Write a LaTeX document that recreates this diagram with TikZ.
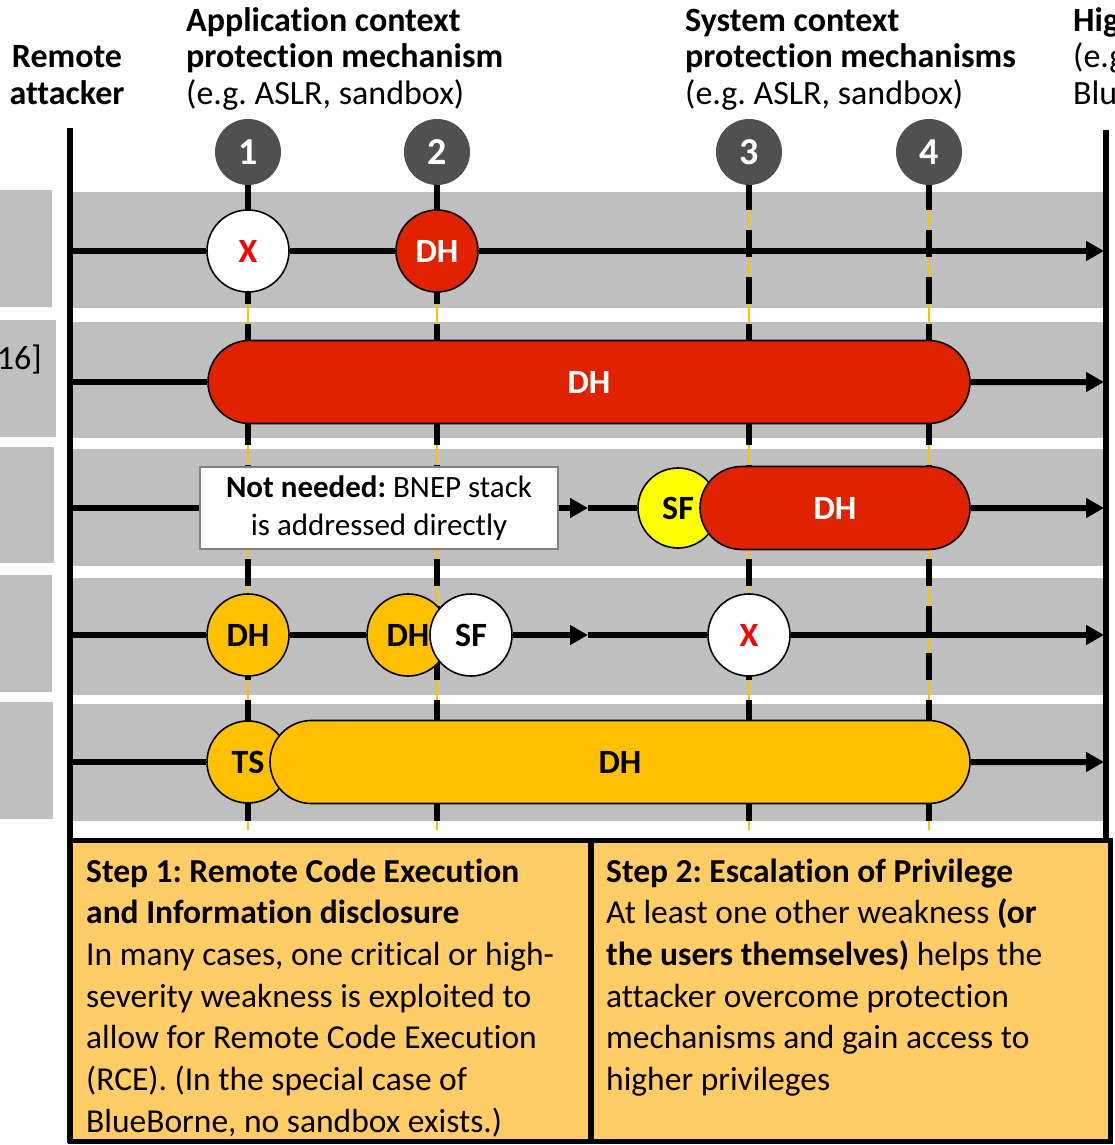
\documentclass[tikz,border=0pt]{standalone}
\usepackage{fontspec}
\setmainfont{Carlito}[Ligatures=NoCommon]
\usetikzlibrary{arrows.meta,shapes.misc}
\frenchspacing

\definecolor{band}{HTML}{BFBFBF}
\definecolor{numgray}{HTML}{505050}
\definecolor{hotred}{HTML}{E02200}
\definecolor{amber}{HTML}{FFC000}
\definecolor{sunyellow}{HTML}{FFFF00}
\definecolor{stepfill}{HTML}{FFCC66}
\definecolor{xred}{HTML}{FF0000}
\definecolor{notegray}{HTML}{808080}

\begin{document}
\begin{tikzpicture}[x=1pt,y=-1pt,
  hdr/.style={anchor=base west, inner sep=0pt, font=\fontsize{34}{36}\selectfont},
  hdrc/.style={hdr, anchor=base},
  body/.style={anchor=base west, inner sep=0pt, font=\fontsize{33.5}{42}\selectfont},
  numdot/.style={circle, fill=numgray, minimum size=66pt, inner sep=0pt,
    text=white, font=\fontsize{38}{40}\selectfont\bfseries},
  guidethin/.style={amber, line width=1.2pt},
  guidedash/.style={black, line width=6.5pt, dash pattern=on 27pt off 20pt, dash phase=2pt},
  rail/.style={black, line width=6pt},
  flow/.style={black, line width=6pt},
  flowend/.style={flow, -{Triangle[length=18pt,width=19pt]}},
  ev/.style={circle, draw=black, line width=1.6pt, minimum size=82pt, inner sep=0pt,
    font=\fontsize{34}{36}\selectfont\bfseries},
  pill/.style={rounded rectangle, draw=black, line width=1.6pt, minimum height=83pt,
    inner sep=0pt, font=\fontsize{34}{36}\selectfont\bfseries},
  notebox/.style={draw=notegray, line width=1.5pt, fill=white, minimum width=358pt,
    minimum height=82pt, inner sep=0pt, align=center, font=\fontsize{31}{38}\selectfont}
]
\clip (0,0) rectangle (1115,1145);
\useasboundingbox (0,0) rectangle (1115,1145);

% row label tabs on the left edge
\fill[band] (0,190) rectangle (52,307);
\fill[band] (0,320) rectangle (56,437);
\fill[band] (0,447) rectangle (54,563);
\fill[band] (0,575) rectangle (52,692);
\fill[band] (0,702) rectangle (53,819);
\node[anchor=base east, inner sep=0pt, font=\fontsize{34}{36}\selectfont] (cite) at (42,369) {16]};

% scenario bands
\fill[band] (73,192) rectangle (1106,308);
\fill[band] (73,322) rectangle (1106,438);
\fill[band] (73,449) rectangle (1106,566);
\fill[band] (73,578) rectangle (1106,695);
\fill[band] (73,704) rectangle (1106,821);

% numbered protection barriers
\node[numdot] (n1) at (248,152) {1};
\node[numdot] (n2) at (437,152) {2};
\node[numdot] (n3) at (749,152) {3};
\node[numdot] (n4) at (929,152) {4};
\coordinate (gbottom) at (0,830);
\foreach \n in {n1,n2,n3,n4}{
  \draw[guidethin] (\n.south) -- (\n.south |- gbottom);
  \draw[guidedash] (\n.south) -- (\n.south |- gbottom);
}

% attacker and target rails
\draw[rail] (70,128) -- (70,1143);
\draw[rail] (1106,130) -- (1106,840);

% row 1
\node[ev, fill=white, text=xred] (r1a) at (248,251) {X};
\node[ev, fill=hotred, text=white] (r1b) at (437,251) {DH};
\coordinate (r1s) at (73,251);
\coordinate (r1e) at (1104,251);
\draw[flow] (r1s) -- (r1a);
\draw[flow] (r1a) -- (r1b);
\draw[flowend] (r1b) -- (r1e);

% row 2
\node[pill, fill=hotred, text=white, minimum width=762pt] (r2a) at (589,382) {DH};
\coordinate (r2s) at (73,382);
\coordinate (r2e) at (1104,382);
\draw[flow] (r2s) -- (r2a);
\draw[flowend] (r2a) -- (r2e);

% row 3
\node[notebox] (r3note) at (379,508) {\textbf{Not needed:} BNEP stack\\is addressed directly};
\node[ev, fill=sunyellow, text=black, minimum size=80pt] (r3a) at (678,508) {SF};
\node[pill, fill=hotred, text=white, minimum width=270pt] (r3b) at (835,508) {DH};
\coordinate (r3s) at (73,508);
\coordinate (r3tip) at (588,508);
\coordinate (r3e) at (1104,508);
\draw[flow] (r3s) -- (r3note);
\draw[flowend] (r3note) -- (r3tip);
\draw[flow] (r3tip) -- (r3a);
\draw[flowend] (r3b) -- (r3e);

% row 4
\node[ev, fill=amber, text=black] (r4a) at (248,635) {DH};
\node[ev, fill=amber, text=black] (r4b) at (408,635) {DH};
\node[ev, fill=white, text=black] (r4c) at (471,635) {SF};
\node[ev, fill=white, text=xred] (r4d) at (749,635) {X};
\coordinate (r4s) at (73,635);
\coordinate (r4tip) at (588,635);
\coordinate (r4e) at (1104,635);
\draw[flow] (r4s) -- (r4a);
\draw[flow] (r4a) -- (r4b);
\draw[flowend] (r4c) -- (r4tip);
\draw[flow] (r4tip) -- (r4d);
\draw[flowend] (r4d) -- (r4e);

% row 5
\node[ev, fill=amber, text=black] (r5a) at (248,762) {TS};
\node[pill, fill=amber, text=black, minimum width=700pt] (r5b) at (620,762) {DH};
\coordinate (r5s) at (73,762);
\coordinate (r5e) at (1104,762);
\draw[flow] (r5s) -- (r5a);
\draw[flowend] (r5b) -- (r5e);

% column headers
\node[hdrc] (ra1) at (67,68) {\bfseries Remote};
\node[hdrc] (ra2) at (67,104.5) {\bfseries attacker};
\node[hdr] (ap1) at (186,31.5) {\bfseries Application context};
\node[hdr] (ap2) at (186,68) {\bfseries protection mechanism};
\node[hdr] (ap3) at (186,104.5) {(e.g. ASLR, sandbox)};
\node[hdr] (sy1) at (685,31.5) {\bfseries System context};
\node[hdr] (sy2) at (685,68) {\bfseries protection mechanisms};
\node[hdr] (sy3) at (685,104.5) {(e.g. ASLR, sandbox)};
\node[hdr] (hi1) at (1073,31.5) {\bfseries Hig};
\node[hdr] (hi2) at (1073,68) {(e.g};
\node[hdr] (hi3) at (1073,104.5) {Blu};

% step explanation panels
\fill[stepfill] (70,840) rectangle (1110,1141);
\draw[black, line width=5pt] (70,840) rectangle (1110,1141);
\draw[black, line width=6pt] (591,840) -- (591,1141);

\node[body] (s1l1) at (86,882) {\bfseries Step 1: Remote Code Execution};
\node[body] (s1l2) at (86,923.7) {\bfseries and Information disclosure};
\node[body] (s1l3) at (86,965.3) {In many cases, one critical or high-};
\node[body] (s1l4) at (86,1007) {severity weakness is exploited to};
\node[body] (s1l5) at (86,1048.7) {allow for Remote Code Execution};
\node[body] (s1l6) at (86,1090.3) {(RCE). (In the special case of};
\node[body] (s1l7) at (86,1132) {BlueBorne, no sandbox exists.)};

\node[body] (s2l1) at (606,882) {\bfseries Step 2: Escalation of Privilege};
\node[body] (s2l2) at (606,923.7) {At least one other weakness \textbf{(or}};
\node[body] (s2l3) at (606,965.3) {\textbf{the users themselves)} helps the};
\node[body] (s2l4) at (606,1007) {attacker overcome protection};
\node[body] (s2l5) at (606,1048.7) {mechanisms and gain access to};
\node[body] (s2l6) at (606,1090.3) {higher privileges};
\end{tikzpicture}
\end{document}
